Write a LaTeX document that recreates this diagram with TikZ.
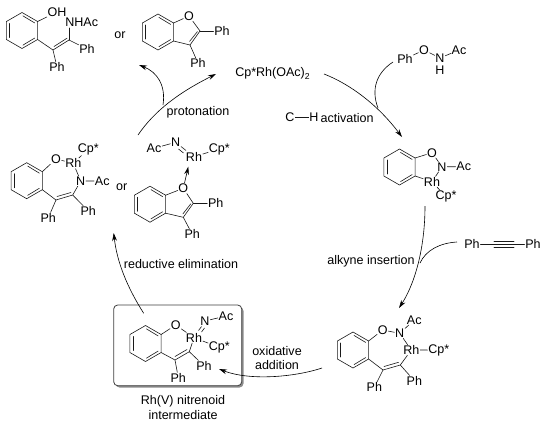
\documentclass[tikz,border=0pt]{standalone}
\usepackage{fontspec}
\setmainfont{Liberation Sans}
\usetikzlibrary{arrows.meta}
\newcommand{\benz}[3]{%
  \begin{scope}[shift={(#2,#3)}]
    \coordinate (#1t) at (0,-18);
    \coordinate (#1ur) at (15.6,-9);
    \coordinate (#1lr) at (15.6,9);
    \coordinate (#1b) at (0,18);
    \coordinate (#1ll) at (-15.6,9);
    \coordinate (#1ul) at (-15.6,-9);
    \draw[bond] (#1t)--(#1ur)--(#1lr)--(#1b)--(#1ll)--(#1ul)--cycle;
    \draw[bond] (-12.6,-7)--(-12.6,7);
    \draw[bond] (1,-14.6)--(12.6,-7.6);
    \draw[bond] (1,14.6)--(12.6,7.6);
  \end{scope}}
\tikzset{
  bond/.style={line width=0.45pt,black!90,line cap=round},
  atom/.style={inner sep=0.4pt,font=\fontsize{9.4}{10}\selectfont,text=black},
  lab/.style={inner sep=0pt,font=\fontsize{9.4}{11.2}\selectfont,text=black},
  arr/.style={line width=0.45pt,black,-{Stealth[length=6pt,width=3.6pt]}},
  feed/.style={line width=0.45pt,black},
  boxed/.style={rounded corners=3pt,line width=0.6pt,draw=black!75,fill=white},
}
\begin{document}
\begin{tikzpicture}[x=0.75pt,y=-0.75pt]
\useasboundingbox (0,0) rectangle (545,429);
\fill[white] (0,0) rectangle (545,429);

% --- top-left product
\benz{a}{22}{30.5}
\node[atom] (aOH) at (57,12) {OH};
\node[atom,anchor=west] (aNH) at (64.5,22) {NHAc};
\node[atom] (aPh1) at (87,49) {Ph};
\node[atom] (aPh2) at (57,67) {Ph};
\coordinate (aC1) at (53,50);
\coordinate (aC2) at (69,40);
\coordinate (aNb) at (69,28);
\draw[bond] (aur)--(aOH);
\draw[bond] (alr)--(aC1)--(aC2);
\draw[bond] (54,46.5)--(67,38.2);
\draw[bond] (aC2)--(aNb);
\draw[bond] (aC2)--(aPh1);
\draw[bond] (aC1)--(aPh2);
\node[lab] (or1) at (120,35) {or};

% --- top benzofuran
\benz{b}{158}{32}
\node[atom] (bO) at (189,16) {O};
\coordinate (bC2) at (200,31);
\coordinate (bC3) at (190,45);
\node[atom] (bPh1) at (222,31) {Ph};
\node[atom] (bPh2) at (198,63) {Ph};
\draw[bond] (bur)--(bO)--(bC2)--(bC3)--(blr);
\draw[bond] (197.5,31.5)--(189.5,41.5);
\draw[bond] (bC2)--(bPh1);
\draw[bond] (bC3)--(bPh2);

% --- catalyst
\node[atom,anchor=west,inner sep=0pt] (cat) at (235,73) {Cp*Rh(OAc)\raisebox{-2.2pt}{\fontsize{6.5}{7}\selectfont 2}};

% --- substrate
\node[atom] (sPh) at (405,59) {Ph};
\node[atom] (sO) at (424,50) {O};
\node[atom] (sN) at (440,58) {N};
\node[atom] (sH) at (440,70) {H};
\node[atom] (sAc) at (459,50) {Ac};
\draw[bond] (sPh)--(sO)--(sN)--(sAc);

% --- C-H activation label
\node[atom] (cC) at (290,117) {C};
\node[atom] (cH) at (314,117) {H};
\draw[bond] (cC)--(cH);
\node[lab] (cAct) at (347,118) {activation};

% --- rhodacycle right
\benz{d}{399.5}{167}
\node[atom] (dO) at (432,152.7) {O};
\node[atom] (dN) at (442,166.7) {N};
\node[atom] (dAc) at (463.7,166.7) {Ac};
\node[atom] (dRh) at (432,181.7) {Rh};
\node[atom] (dCp) at (446,196.7) {Cp*};
\draw[bond] (dur)--(dO)--(dN)--(dAc);
\draw[bond] (dN)--(dRh);
\draw[bond] (dlr)--(dRh)--(dCp);

% --- alkyne
\node[atom] (yPh1) at (472,244) {Ph};
\node[atom] (yPh2) at (533,244) {Ph};
\draw[bond] (yPh1)--(yPh2);
\draw[bond] (494,241) -- (514,241);
\draw[bond] (494,247) -- (514,247);
\node[lab] (yLab) at (371,261) {alkyne insertion};

% --- seven-membered ring lower right
\benz{e}{353}{350}
\node[atom] (eO) at (382.7,330) {O};
\node[atom] (eN) at (399.7,333.3) {N};
\node[atom] (eAc) at (414.3,320) {Ac};
\node[atom] (eRh) at (411.3,350) {Rh};
\node[atom] (eCp) at (438.7,350) {Cp*};
\coordinate (eC1) at (383,370);
\coordinate (eC2) at (400.3,365);
\node[atom] (ePh1) at (374.3,387.3) {Ph};
\node[atom] (ePh2) at (414.3,380.7) {Ph};
\draw[bond] (eur)--(eO)--(eN)--(eAc);
\draw[bond] (eN)--(eRh)--(eCp);
\draw[bond] (elr)--(eC1)--(eC2)--(eRh);
\draw[bond] (384,366.5)--(398.5,362.3);
\draw[bond] (eC1)--(ePh1);
\draw[bond] (eC2)--(ePh2);

% --- oxidative addition label
\node[lab,align=center] (oxLab) at (277,358) {oxidative\\addition};

% --- boxed nitrenoid
\fill[black!45,rounded corners=3pt] (115.5,307) rectangle (243.5,387.5);
\draw[boxed] (113.7,305) rectangle (241.7,385.7);
\benz{f}{145.5}{343.5}
\node[atom] (fO) at (175.7,325) {O};
\node[atom] (fRh) at (194,337.7) {Rh};
\node[atom] (fN) at (205,321) {N};
\node[atom] (fAc) at (226,316) {Ac};
\node[atom] (fCp) at (219.3,347.3) {Cp*};
\coordinate (fC1) at (175,360);
\coordinate (fC2) at (189.3,351.7);
\node[atom] (fPh1) at (204,365.7) {Ph};
\node[atom] (fPh2) at (178.3,377.7) {Ph};
\draw[bond] (fur)--(fO)--(fRh)--(fCp);
\draw[bond] (fN)--(fAc);
\draw[bond] (198.5,330.5)--(201.5,326.5);
\draw[bond] (201.5,332)--(204.5,328);
\draw[bond] (flr)--(fC1)--(fC2)--(fRh);
\draw[bond] (175,356.5)--(187,349.5);
\draw[bond] (fC2)--(fPh1);
\draw[bond] (fC1)--(fPh2);
\node[lab,align=center] (fLab) at (183,407.5) {Rh(V) nitrenoid\\intermediate};

% --- left rhodacycle
\benz{g}{26.7}{180.7}
\node[atom] (gO) at (56,159) {O};
\node[atom] (gRh) at (73.3,163.3) {Rh};
\node[atom] (gCp) at (88.3,149) {Cp*};
\node[atom] (gN) at (80.7,181) {N};
\node[atom] (gAc) at (102.3,181) {Ac};
\coordinate (gC1) at (56,200);
\coordinate (gC2) at (72.7,195);
\node[atom] (gPh1) at (48.3,217.7) {Ph};
\node[atom] (gPh2) at (88.3,211) {Ph};
\draw[bond] (gur)--(gO)--(gRh)--(gCp);
\draw[bond] (gRh)--(gN)--(gAc);
\draw[bond] (glr)--(gC1)--(gC2)--(gN);
\draw[bond] (57,196.5)--(71,192.5);
\draw[bond] (gC1)--(gPh1);
\draw[bond] (gC2)--(gPh2);
\node[lab] (or2) at (121.7,186.7) {or};

% --- Rh nitrene + benzofuran
\node[atom] (hAc) at (154,148.3) {Ac};
\node[atom] (hN) at (175.7,142.3) {N};
\node[atom] (hRh) at (194,156.7) {Rh};
\node[atom] (hCp) at (219.3,149) {Cp*};
\draw[bond] (hAc)--(hN);
\draw[bond] (hRh)--(hCp);
\draw[bond] (178.5,149)--(183.5,153);
\draw[bond] (181,146.5)--(186,150.5);
\benz{i}{150}{204.2}
\node[atom] (iO) at (183.3,188.3) {O};
\coordinate (iC2) at (193.3,203.3);
\coordinate (iC3) at (183.3,217.3);
\node[atom] (iPh1) at (215.7,203.3) {Ph};
\node[atom] (iPh2) at (192.3,234.3) {Ph};
\draw[bond] (iur)--(iO)--(iC2)--(iC3)--(ilr);
\draw[bond] (190.8,203.8)--(182.8,214);
\draw[bond] (iC2)--(iPh1);
\draw[bond] (iC3)--(iPh2);
\coordinate (iTo) at (188.3,166.7);
\draw[arr] (iO)--(iTo);

% --- cycle arrows
\coordinate (p0) at (138,135);
\coordinate (p1) at (216,74);
\coordinate (p2) at (163,105);
\coordinate (p3) at (139,65);
\draw[arr] (p0) .. controls (155,110) and (180,92) .. (p1);
\draw[arr] (p2) .. controls (166,85) and (157,72) .. (p3);
\node[lab] (pLab) at (198,112) {protonation};

\coordinate (q0) at (324,74);
\coordinate (q1) at (402,137);
\coordinate (q2) at (393,62);
\coordinate (q3) at (378,108);
\draw[arr] (q0) .. controls (350,84) and (378,105) .. (q1);
\draw[feed] (q2) .. controls (376,73) and (371,90) .. (q3);

\coordinate (r0) at (425,206);
\coordinate (r1) at (399,308);
\coordinate (r2) at (457,242);
\coordinate (r3) at (420,263);
\draw[arr] (r0) .. controls (425,250) and (414,285) .. (r1);
\draw[feed] (r2) .. controls (440,243) and (426,250) .. (r3);

\coordinate (t0) at (322,368);
\coordinate (t1) at (219,369);
\draw[arr] (t0) .. controls (295,377) and (250,381) .. (t1);

\coordinate (u0) at (143.7,313.3);
\coordinate (u1) at (113.7,233);
\draw[arr] (u0) .. controls (127,287) and (117,262) .. (u1);
\node[lab] (uLab) at (181,264) {reductive elimination};
\end{tikzpicture}
\end{document}
